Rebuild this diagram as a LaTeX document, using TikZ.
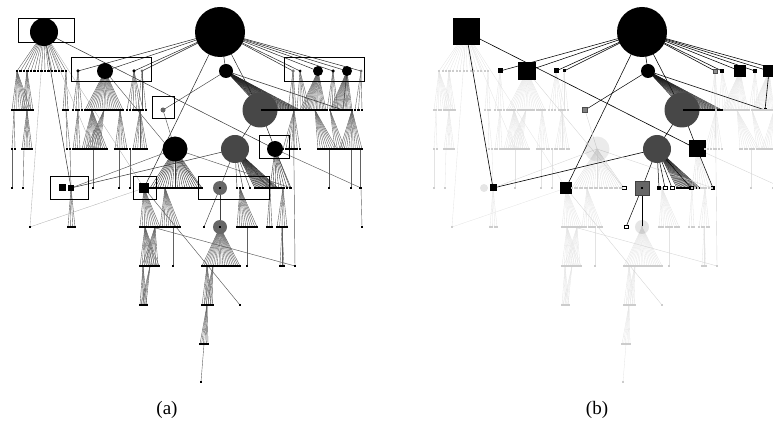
\documentclass[tikz,border=0pt]{standalone}
\usepackage{fontspec}
\setmainfont{Liberation Serif}
\newif\ifedgepass
\tikzset{
  cir/.style={circle,inner sep=0pt,minimum size=#1},
  sq/.style={rectangle,inner sep=0pt,minimum size=#1},
  box/.style={draw=black,line width=1pt},
  lab/.style={font=\fontsize{19}{21}\selectfont},
  nd/.style={},
  panelA/.style={name prefix=a-,
    fl/.style={draw=black!62,line width=0.4pt},
    fd/.style={draw=black!88,line width=0.4pt},
    fg/.style={draw=black!78,line width=0.4pt},
    hl/.style={draw=black!85,line width=0.5pt},
    hd/.style={draw=black!75,line width=0.45pt},
    ld/.style={draw=black!80,line width=0.5pt},
    lm/.style={draw=black!65,line width=0.45pt},
    ll/.style={draw=black!30,line width=0.35pt},
    pt/.style={sq=2.4pt,fill=black},
    fldot/.style={}, fddot/.style={}, fgdot/.style={},
    sR/.style={cir=50pt,fill=black},
    sA/.style={cir=28pt,fill=black},
    sB/.style={cir=16pt,fill=black},
    sD/.style={cir=14pt,fill=black},
    sC/.style={cir=10pt,fill=black},
    sn78/.style={cir=3.5pt,fill=black},
    sn134/.style={cir=3.5pt,fill=black},
    sn142/.style={cir=3pt,fill=black!60},
    sn293/.style={cir=3.5pt,fill=black!55},
    sn300/.style={cir=3pt,fill=black},
    sn333/.style={cir=3.5pt,fill=black},
    sn361/.style={cir=3pt,fill=black!60},
    sE/.style={cir=5pt,fill=black!60},
    sF/.style={cir=35pt,fill=black!72},
    sP/.style={sq=2.4pt,fill=black},
    sG/.style={cir=25pt,fill=black},
    sH/.style={cir=28pt,fill=black!72},
    sI/.style={cir=16pt,fill=black},
    sJa/.style={sq=7pt,fill=black},
    sJb/.style={sq=6pt,fill=black},
    sK/.style={sq=10pt,fill=black},
    sL/.style={cir=14pt,fill=black!60},
    sLdot/.style={sq=1.6pt,fill=black},
    sLL/.style={cir=14pt,fill=black!60},
    sLLdot/.style={sq=1.6pt,fill=black},
    sho/.style={sq=2.4pt,fill=black},
    shb/.style={sq=2.4pt,fill=black}
  },
  panelB/.style={name prefix=b-,
    fl/.style={draw=black!11,line width=0.3pt},
    fd/.style={draw=black!90,line width=0.35pt},
    fg/.style={draw=black!13,line width=0.3pt},
    hl/.style={draw=black,line width=0.55pt},
    hd/.style={draw=black,line width=0.5pt},
    ld/.style={draw=black,line width=0.6pt},
    lm/.style={draw=black!16,line width=0.4pt},
    ll/.style={draw=black!10,line width=0.35pt},
    pt/.style={sq=2pt,fill=black!20},
    fldot/.style={}, fddot/.style={fill=black}, fgdot/.style={},
    sR/.style={cir=50pt,fill=black},
    sA/.style={sq=27pt,fill=black},
    sB/.style={sq=18pt,fill=black},
    sD/.style={cir=14pt,fill=black},
    sC/.style={sq=12pt,fill=black},
    sn78/.style={sq=5pt,fill=black},
    sn134/.style={sq=5pt,fill=black},
    sn142/.style={sq=3pt,fill=black},
    sn293/.style={sq=4pt,fill=black!45,draw=black!70,line width=0.4pt},
    sn300/.style={sq=3.5pt,fill=black},
    sn333/.style={sq=4pt,fill=black},
    sn361/.style={sq=4pt,fill=black},
    sE/.style={sq=5pt,fill=black!50,draw=black!70,line width=0.4pt},
    sF/.style={cir=35pt,fill=black!72},
    sP/.style={sq=3pt,fill=black},
    sG/.style={cir=25pt,fill=black,fill opacity=0.08},
    sH/.style={cir=28pt,fill=black!72},
    sI/.style={sq=17pt,fill=black},
    sJa/.style={cir=8pt,fill=black,fill opacity=0.1},
    sJb/.style={sq=7pt,fill=black},
    sK/.style={sq=12pt,fill=black},
    sL/.style={sq=14pt,fill=black!60,draw=black!75,line width=0.5pt},
    sLdot/.style={sq=2pt,fill=black},
    sLL/.style={cir=14pt,fill=black,fill opacity=0.1},
    sLLdot/.style={sq=1.6pt,fill=black!20},
    sho/.style={sq=3.5pt,fill=white,draw=black,line width=0.5pt},
    shb/.style={sq=3.5pt,fill=black}
  }
}
% fan of lines from a parent node to n+1 new dots on row y
\newcommand\fan[6][fl]{%
  \foreach \k [evaluate=\k as \xx using {#3+(#4-#3)*\k/max(#5,1)}] in {0,...,#5}{%
    \node[pt,#1dot,nd] (#2-\k) at (\xx,#6) {};
    \ifedgepass\draw[#1] (#2.center) -- (#2-\k.center);\fi
  }}
% a dot node that fans downwards
\newcommand\sub[8][fl]{\node[pt,nd] (#2) at (#3,#4) {};\fan[#1]{#2}{#5}{#6}{#7}{#8}}
% single connector
\newcommand\ed[3][fl]{\ifedgepass\draw[#1] (#2.center) -- (#3.center);\fi}
\newcommand\skeleton{%
  % principal nodes
  \node[sR,nd] (R) at (220,32) {};
  \node[sA,nd] (A) at (44,32) {};
  \node[sn78,nd] (n78) at (78,71) {};
  \node[sB,nd] (B) at (105,71) {};
  \node[sn134,nd] (n134) at (134,71) {};
  \node[sn142,nd] (n142) at (142,71) {};
  \node[sD,nd] (D) at (226,71) {};
  \node[sn293,nd] (n293) at (293,71) {};
  \node[sn300,nd] (n300) at (300,71) {};
  \node[sC,nd] (C1) at (318,71) {};
  \node[sn333,nd] (n333) at (333,71) {};
  \node[sC,nd] (C2) at (347,71) {};
  \node[sn361,nd] (n361) at (361,71) {};
  \node[sE,nd] (E) at (163,110) {};
  \node[sF,nd] (F) at (260,110) {};
  \node[sP,nd] (P) at (343,110) {};
  \node[sG,nd] (G) at (175,149) {};
  \node[sH,nd] (H) at (235,149) {};
  \node[sI,nd] (I) at (275,149) {};
  \node[sJa,nd] (J1) at (62,188) {};
  \node[sJb,nd] (J2) at (71,188) {};
  \node[sK,nd] (K) at (144,188) {};
  \node[sL,nd] (L) at (220,188) {};
  \node[sLdot,nd] (Ld) at (220,188) {};
  \node[sho,nd] (h1) at (202,188) {};
  \node[shb,nd] (h2) at (237,188) {};
  \node[sho,nd] (h3) at (243,188) {};
  \node[sho,nd] (h4) at (250,188) {};
  \node[sho,nd] (h5) at (269,188) {};
  \node[shb,nd] (h6) at (291,188) {};
  \node[sLL,nd] (L2) at (220,227) {};
  \node[sLLdot,nd] (L2d) at (220,227) {};
  \node[sho,nd] (m1) at (204,227) {};
  \node[pt,nd] (q1) at (30,227) {};
  \node[pt,nd] (q2) at (152,227) {};
  \node[pt,nd] (r1) at (240,305) {};
  \node[pt,nd] (r2) at (295,266) {};
  % root edges
  \foreach \t in {n78,B,n134,n142,D,n293,n300,C1,n333,C2,n361} {\ed[hl]{R}{\t}}
  \ed[hl]{R}{K}\ed[hl]{R}{F}
  % layer 0 -> 1
  \fan{A}{17}{66}{14}{71}
  % layer 1 -> 2
  \sub{s17}{17}{71}{12}{31}{8}{110}
  \sub{s27}{27}{71}{22}{33}{5}{110}
  \sub{s66}{66}{71}{63}{68}{2}{110}
  \fan{n78}{73}{82}{3}{110}
  \fan{B}{85}{123}{18}{110}
  \fan{n134}{127}{143}{5}{110}
  \fan{n142}{138}{146}{2}{110}
  \fan{n293}{288}{296}{2}{110}
  \fan{n300}{297}{310}{4}{110}
  \fan{C1}{300}{326}{16}{110}
  \fan{n333}{327}{338}{4}{110}
  \fan{C2}{330}{352}{16}{110}
  \fan{n361}{355}{362}{2}{110}
  \fan[fd]{D}{262}{300}{22}{110}
  % layer 2 -> 3
  \sub{u14}{14}{110}{12}{15}{1}{149}
  \sub{u27}{27}{110}{22}{32}{5}{149}
  \sub{u66}{66}{110}{67}{70}{1}{149}
  \sub{u78}{78}{110}{73}{80}{3}{149}
  \sub{u92}{92}{110}{82}{107}{12}{149}
  \sub{u104}{104}{110}{86}{100}{6}{149}
  \sub{u120}{120}{110}{115}{127}{5}{149}
  \sub{u140}{140}{110}{133}{147}{6}{149}
  \sub{u294}{294}{110}{283}{300}{6}{149}
  \sub{u315}{315}{110}{318}{337}{8}{149}
  \sub{u330}{330}{110}{335}{345}{4}{149}
  \sub{u352}{352}{110}{340}{362}{10}{149}
  % layer 3 -> 4
  \sub{v12}{12}{149}{12}{12}{0}{188}
  \sub{v24}{24}{149}{23}{23}{0}{188}
  \node[pt,nd] (v70) at (70,149) {};\ed{v70}{J2}
  \sub{v93}{93}{149}{93}{93}{0}{188}
  \sub{v119}{119}{149}{119}{119}{0}{188}
  \sub{v130}{130}{149}{130}{130}{0}{188}
  \fan[fg]{G}{150}{200}{20}{188}
  \fan[fd]{H}{255}{278}{16}{188}
  \fan[fg]{I}{270}{290}{7}{188}
  \sub{v329}{329}{149}{329}{329}{0}{188}
  \sub{v351}{351}{149}{351}{351}{0}{188}
  \sub{v360}{360}{149}{360}{360}{0}{188}
  % layer 4 -> 5
  \fan{J2}{68}{75}{3}{227}
  \fan{K}{140}{160}{9}{227}
  \sub{w165}{165}{188}{160}{180}{9}{227}
  \sub{w240}{240}{188}{237}{257}{9}{227}
  \sub{w270}{270}{188}{267}{272}{2}{227}
  \sub{w283}{283}{188}{277}{287}{4}{227}
  \sub{w361}{361}{188}{362}{362}{0}{227}
  % layer 5 -> 6
  \sub{x145}{145}{227}{140}{159}{9}{266}
  \sub{x155}{155}{227}{142}{158}{7}{266}
  \sub{x173}{173}{227}{173}{173}{0}{266}
  \fan{L2}{202}{240}{20}{266}
  \sub{x247}{247}{227}{247}{247}{0}{266}
  \sub{x282}{282}{227}{280}{284}{2}{266}
  % layer 6 -> 9
  \sub{y143}{143}{266}{140}{147}{4}{305}
  \sub{y150}{150}{266}{141}{146}{3}{305}
  \sub{y207}{207}{266}{202}{213}{5}{305}
  \sub{y213}{213}{266}{204}{212}{4}{305}
  \sub{z207}{207}{305}{200}{208}{5}{344}
  \sub{z204}{204}{344}{201}{201}{0}{382}
  % long connectors
  \ed[ld]{A}{I}\ed[ld]{A}{J2}\ed[ll]{A}{q1}\ed[ll]{A}{K}\ed[ll]{A}{v93}
  \ed[hd]{D}{E}\ed[ld]{D}{P}\ed[ld]{C2}{P}
  \ed[lm]{E}{G}\ed[hl]{F}{H}\ed[hl]{F}{I}
  \ed[ld]{H}{J2}\ed[lm]{G}{J2}\ed[lm]{G}{h6}\ed[lm]{G}{h1}
  \ed[hd]{H}{L}\ed[hd]{H}{h2}\ed[hd]{H}{h3}\ed[hd]{H}{h4}\ed[hd]{H}{h5}
  \ed[hd]{I}{h6}\ed[lm]{I}{w361}
  \ed[hd]{L}{m1}\ed[hd]{L}{L2}
  \ed[lm]{K}{r1}\ed[lm]{q2}{r2}\ed[ll]{K}{q1}\ed[lm]{B}{h1}\ed[lm]{n293}{r2}
}
\newcommand\twopass{%
  \edgepasstrue\tikzset{nd/.style={fill=none,draw=none}}\skeleton
  \edgepassfalse\tikzset{nd/.style={}}\skeleton}
\begin{document}
\begin{tikzpicture}[x=1pt,y=-1pt]
  \useasboundingbox (0,0) rectangle (773,427);
  \begin{scope}[panelA]
    \twopass
    \draw[box] (18,19) rectangle (74,43);
    \draw[box] (71,58) rectangle (151,82);
    \draw[box] (284,58) rectangle (364,82);
    \draw[box] (152,97) rectangle (174,119);
    \draw[box] (259,136) rectangle (289,159);
    \draw[box] (50,177) rectangle (88,200);
    \draw[box] (133,177) rectangle (156,200);
    \draw[box] (198,177) rectangle (269,200);
  \end{scope}
  \begin{scope}[panelB,xshift=422pt]
    \twopass
  \end{scope}
  \node[lab] (la) at (167,410) {(a)};
  \node[lab] (lb) at (597,410) {(b)};
\end{tikzpicture}
\end{document}
